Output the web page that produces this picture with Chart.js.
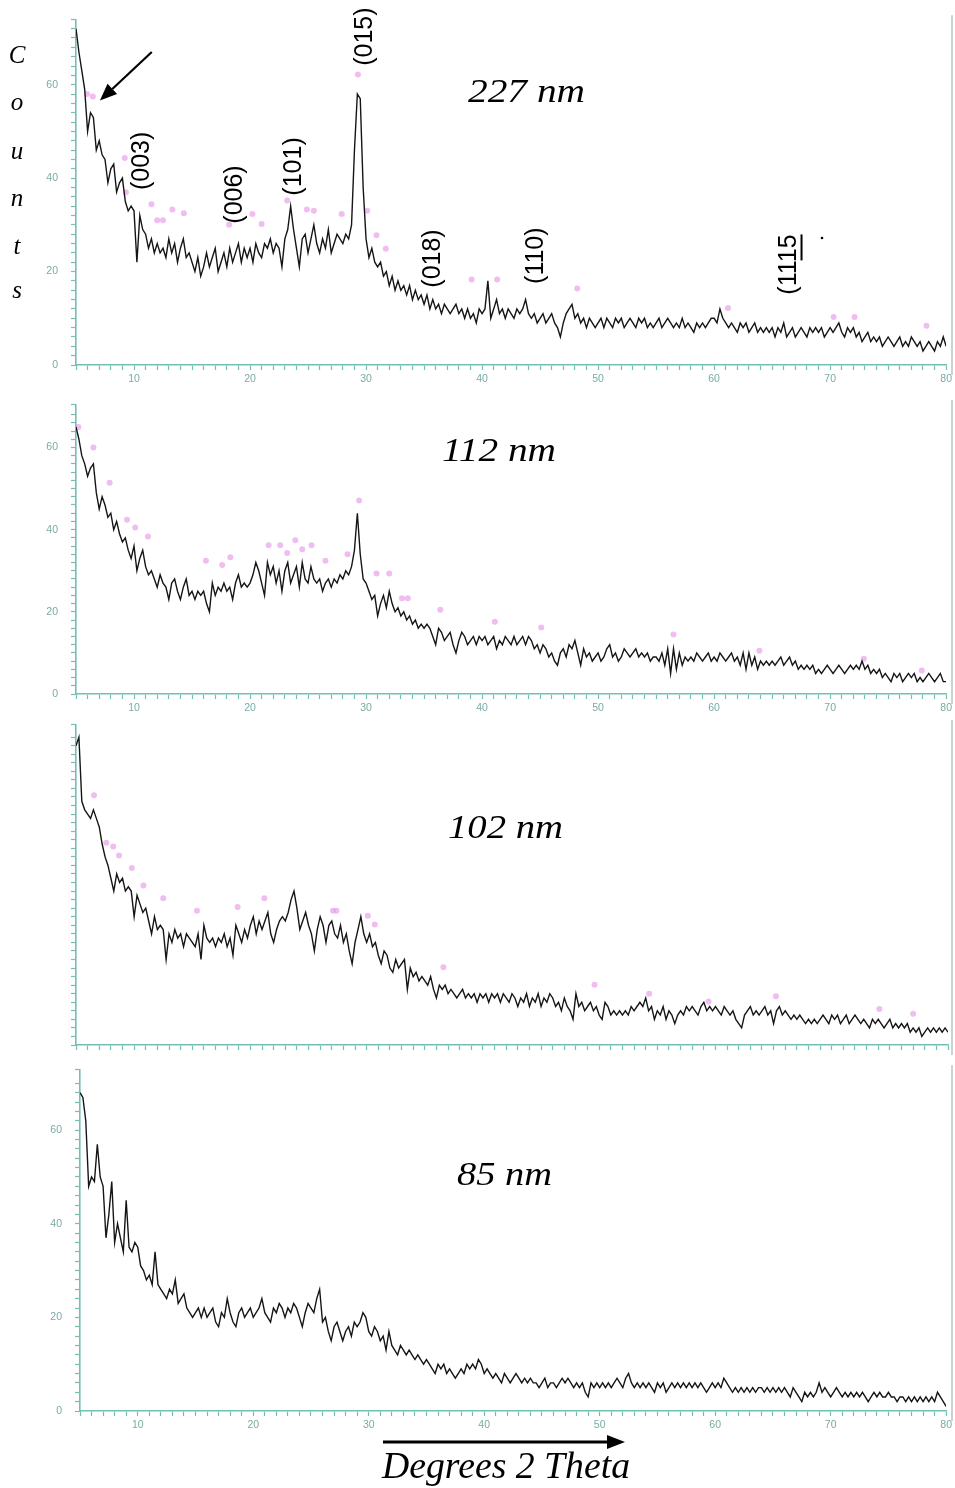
<!DOCTYPE html>
<html>
<head>
<meta charset="utf-8">
<script src="https://cdn.jsdelivr.net/npm/chart.js@4"></script>
<style>
  html, body { margin: 0; padding: 0; background: #fff; }
  body { position: relative; width: 955px; height: 1488px; overflow: hidden; }
  canvas { position: absolute; left: 0; }
  svg.over { position: absolute; left: 0; top: 0; pointer-events: none; }
  svg.over text { font-family: "Liberation Serif", "DejaVu Serif", serif; font-style: italic; fill: #000; }
</style>
</head>
<body>
<canvas id="c1" width="955" height="392" style="top:0px"></canvas>
<canvas id="c2" width="955" height="335" style="top:385px"></canvas>
<canvas id="c3" width="955" height="370" style="top:705px"></canvas>
<canvas id="c4" width="955" height="390" style="top:1050px"></canvas>

<svg class="over" width="955" height="1488" viewBox="0 0 955 1488">
  <!-- vertical axis title, one letter per line -->
  <text x="17" y="63" font-size="25" text-anchor="middle">C</text>
  <text x="17" y="110" font-size="25" text-anchor="middle">o</text>
  <text x="17" y="159" font-size="25" text-anchor="middle">u</text>
  <text x="17" y="206" font-size="25" text-anchor="middle">n</text>
  <text x="17" y="254" font-size="25" text-anchor="middle">t</text>
  <text x="17" y="298" font-size="25" text-anchor="middle">s</text>

  <!-- crystallite size of each sample -->
  <text x="468" y="102" font-size="34" textLength="117" lengthAdjust="spacingAndGlyphs">227 nm</text>
  <text x="442" y="461" font-size="34" textLength="114" lengthAdjust="spacingAndGlyphs">112 nm</text>
  <text x="448" y="838" font-size="34" textLength="115" lengthAdjust="spacingAndGlyphs">102 nm</text>
  <text x="457" y="1185" font-size="34" textLength="95" lengthAdjust="spacingAndGlyphs">85 nm</text>

  <!-- horizontal axis title with direction arrow -->
  <line x1="383" y1="1442" x2="610" y2="1442" stroke="#000" stroke-width="3"/>
  <polygon points="607,1435 625,1442 607,1449" fill="#000"/>
  <text x="382" y="1478" font-size="38" textLength="248" lengthAdjust="spacingAndGlyphs">Degrees 2 Theta</text>
</svg>

<script>
// Scan grid of the diffractometer (degrees 2θ)
const scanStart = 5;
const scanStep = 0.25;

// Axis tick settings
const xMin = 5, xMax = 80;
const xTickStep = 1, xLabelStep = 10;
const yTickStep = 2, yLabelStep = 20;

// Counts, one row per 5° of 2θ
const counts227 = [
  72,67,63,59,50,54,53,46,48,45,44,39,42,43,37,39,40,35,33,34,
  33,22,32,29,28,25,27,24,26,24,25,23,27,24,26,22,25,27,23,24,
  22,20,23,19,21,24,21,23,25,20,22,24,21,25,22,24,26,22,25,23,
  25,22,26,24,23,26,25,27,24,26,25,21,27,29,34,29,25,21,27,28,
  24,27,30,26,24,27,25,29,24,26,28,27,26,28,27,30,46,58,57,38,
  27,23,25,22,21,22,19,20,17,19,16,18,16,17,15,17,14,16,14,15,
  13,15,12,14,12,13,11,13,12,11,12,13,11,12,10,12,10,11,9,12,
  11,12,18,10,12,14,11,12,10,12,11,10,12,11,12,14,11,10,11,9,
  10,11,9,10,11,9,8,6,9,11,12,13,10,11,9,10,8,10,9,8,
  9,10,8,10,9,8,10,9,10,8,9,10,9,8,10,9,10,8,9,8,
  9,10,8,9,10,9,8,9,8,10,8,9,8,7,9,8,9,8,9,10,
  10,9,12,10,9,8,9,8,7,9,8,9,7,8,9,7,8,7,8,7,
  8,6,8,7,9,6,7,8,6,7,8,7,6,8,7,8,7,8,6,7,
  8,7,8,9,7,6,8,7,8,6,7,5,6,7,5,6,5,6,4,5,
  6,5,4,5,6,4,5,4,6,5,4,5,3,4,5,4,3,5,4,6,
  4
];

const counts112 = [
  65,62,58,56,53,55,56,49,45,48,46,43,44,40,42,39,37,38,35,33,
  36,30,33,35,31,29,30,28,26,29,27,26,23,27,28,25,23,26,28,24,
  25,23,25,24,25,22,20,27,24,26,25,27,25,26,23,27,29,26,27,26,
  27,29,32,30,27,24,32,29,31,27,30,25,30,32,27,29,31,26,32,28,
  27,31,28,27,28,25,27,28,26,28,27,29,28,30,29,31,35,44,34,28,
  27,25,23,24,19,22,24,21,25,22,20,21,19,20,18,19,17,18,16,17,
  16,17,16,14,12,16,15,13,14,15,12,10,13,15,14,12,13,14,12,14,
  13,14,12,13,14,11,13,12,14,13,12,14,12,13,14,12,14,13,11,12,
  10,12,11,9,10,8,7,10,11,9,12,11,13,10,7,11,9,10,8,9,
  10,8,9,11,12,9,10,8,9,11,10,9,10,11,9,10,9,10,8,9,
  9,8,10,7,11,5,11,6,10,7,9,8,9,8,10,9,8,9,10,8,
  9,8,10,9,8,9,10,8,9,7,10,6,10,7,9,6,8,7,8,7,
  8,7,8,9,7,8,9,7,8,6,7,6,7,6,7,5,6,5,6,7,
  6,5,6,7,6,5,6,7,6,7,6,8,6,7,5,6,5,6,4,5,
  4,3,5,4,5,3,4,5,4,5,3,4,3,4,5,4,3,4,5,3,
  3
];

const counts102 = [
  70,72,57,55,54,53,55,53,51,47,44,42,39,36,40,38,39,36,37,36,
  30,35,33,31,32,29,26,30,27,28,27,20,26,24,27,25,26,23,26,25,
  24,23,26,20,28,25,24,25,23,25,24,26,23,25,21,28,26,24,27,25,
  28,30,26,29,27,29,31,26,24,27,29,30,29,31,34,36,32,27,29,31,
  28,26,22,27,30,28,24,28,29,26,25,28,24,26,22,19,24,27,30,26,
  24,26,23,24,21,19,22,21,18,17,20,18,19,20,13,18,16,17,15,16,
  15,14,16,13,11,14,13,14,12,13,12,11,12,13,11,12,11,12,10,12,
  11,12,10,12,11,12,10,12,11,10,12,11,9,11,10,12,9,11,10,12,
  9,11,10,12,11,9,10,8,11,9,8,6,12,9,10,8,9,10,8,9,
  7,6,10,9,7,8,7,8,7,8,7,9,8,9,10,9,11,8,9,6,
  8,7,9,6,8,7,5,7,8,7,9,8,9,8,7,9,10,8,9,8,
  9,8,7,9,8,7,8,6,5,4,7,8,9,7,8,7,8,9,7,8,
  5,8,9,7,8,7,6,7,6,7,6,5,6,5,6,5,6,7,6,5,
  7,6,7,5,6,7,5,6,7,6,5,6,5,4,6,5,6,5,4,5,
  6,4,5,4,5,4,5,3,4,3,4,2,3,4,3,4,3,4,3,4,
  3
];

const counts85 = [
  68,67,62,48,50,49,57,50,48,37,42,49,36,40,37,34,45,35,34,36,
  35,31,30,28,29,27,34,27,26,25,24,26,25,28,23,24,25,22,21,20,
  21,22,20,22,20,21,22,19,18,21,20,24,21,19,18,21,22,20,21,22,
  20,21,22,24,21,20,19,22,21,23,22,20,22,21,23,22,20,18,21,23,
  22,21,24,26,19,20,17,15,18,19,17,15,17,18,16,19,18,19,21,20,
  17,16,18,17,15,16,13,17,14,13,12,14,13,12,13,12,11,12,11,10,
  11,10,9,8,10,9,10,8,9,8,7,8,9,8,10,9,10,9,11,10,
  8,9,8,7,8,7,6,8,7,6,7,8,7,6,7,6,7,6,6,5,
  6,7,5,6,6,5,6,7,6,7,6,5,6,5,6,4,3,6,5,6,
  5,6,5,6,5,6,7,6,5,7,8,6,5,6,5,6,5,6,5,4,
  6,5,6,4,5,6,5,6,5,6,5,6,5,6,5,6,5,4,5,6,
  5,6,5,7,6,5,4,5,4,5,4,5,4,5,4,5,5,4,5,4,
  5,4,5,4,5,4,3,5,4,3,2,4,3,4,3,4,6,4,5,4,
  3,4,5,4,3,4,3,4,3,4,3,4,3,2,3,4,3,4,3,3,
  4,3,3,2,3,3,2,3,2,3,2,3,2,3,2,3,2,4,3,2,
  1
];

// Peak-search markers: [2θ, counts]
const marks227 = [
  [5.95,58],[6.45,57.5],[9.2,44.3],[9.3,37],[11.5,34.4],[12.0,31],[12.5,31],[13.3,33.3],
  [14.3,32.5],[18.2,30],[20.2,32.3],[21.0,30.2],[23.2,35.2],[24.9,33.3],[25.5,33],[27.9,32.3],
  [29.3,62.2],[30.1,33],[30.9,27.8],[31.7,24.9],[39.1,18.3],[41.3,18.3],[48.2,16.4],
  [61.2,12.2],[70.3,10.3],[72.1,10.3],[78.3,8.4]
];
const marks112 = [
  [5.2,65],[6.5,60],[7.9,51.4],[9.4,42.4],[10.1,40.5],[11.2,38.3],[16.2,32.4],[17.6,31.4],
  [18.3,33.3],[21.6,36.2],[22.6,36.2],[23.2,34.3],[23.9,37.4],[24.5,35.2],[25.3,36.2],
  [26.5,32.4],[28.4,34],[29.4,47.1],[30.9,29.3],[32.0,29.3],[33.1,23.3],[33.6,23.3],
  [36.4,20.5],[41.1,17.6],[45.1,16.2],[56.5,14.5],[63.9,10.5],[72.9,8.6],[77.9,5.7]
];
const marks102 = [
  [6.55,58.4],[7.6,47.3],[8.2,46.4],[8.7,44.3],[9.8,41.4],[10.8,37.3],[12.5,34.3],
  [15.4,31.4],[18.9,32.3],[21.2,34.3],[27.1,31.4],[27.4,31.4],[30.1,30.2],[30.7,28.2],
  [36.6,18.2],[49.6,14.1],[54.3,12.0],[59.4,10.2],[65.2,11.4],[74.1,8.4],[77.0,7.3]
];

// Miller-index annotations of the 227 nm pattern, anchored at (2θ, counts)
const hklText = ['(003)', '(006)', '(101)', '(015)', '(018)', '(110)', '(1115'];
const hklTheta = [10.7, 18.7, 23.8, 29.9, 35.8, 44.7, 66.5];
const hklCounts = [43.7, 36.5, 42.5, 70.3, 22.8, 23.4, 21.5];

const AXIS = '#72c0b4';
const TICK_TEXT = '#79aca5';

// Draws the frame line on the right, the rotated hkl labels and the pointer arrow
const notesPlugin = {
  id: 'xrdNotes',
  afterDraw(chart, args, opts) {
    const { ctx, chartArea, scales } = chart;
    const xs = scales.x, ys = scales.y;
    ctx.save();
    if (opts.frameX) {
      ctx.strokeStyle = '#c9d3d2';
      ctx.lineWidth = 2;
      ctx.beginPath();
      ctx.moveTo(opts.frameX, chartArea.top - 4);
      ctx.lineTo(opts.frameX, chartArea.bottom + 10);
      ctx.stroke();
    }
    (opts.labels || []).forEach(l => {
      const px = xs.getPixelForValue(l.x);
      const py = ys.getPixelForValue(l.y);
      ctx.save();
      ctx.translate(px, py);
      ctx.rotate(-Math.PI / 2);
      ctx.font = '25px "Liberation Sans", Arial, sans-serif';
      ctx.fillStyle = '#000';
      ctx.textAlign = 'center';
      ctx.textBaseline = 'middle';
      ctx.fillText(l.text, 0, 0);
      if (l.underlineFrom) {
        const w = ctx.measureText(l.text).width;
        const start = -w / 2 + ctx.measureText(l.text.slice(0, l.underlineFrom)).width;
        ctx.fillRect(start, 11, w / 2 - start, 2);
      }
      ctx.restore();
    });
    if (opts.dot) {
      ctx.fillStyle = '#000';
      ctx.beginPath();
      ctx.arc(xs.getPixelForValue(opts.dot[0]), ys.getPixelForValue(opts.dot[1]), 1.3, 0, Math.PI * 2);
      ctx.fill();
    }
    if (opts.arrow) {
      const x0 = xs.getPixelForValue(opts.arrow.from[0]), y0 = ys.getPixelForValue(opts.arrow.from[1]);
      const x1 = xs.getPixelForValue(opts.arrow.to[0]), y1 = ys.getPixelForValue(opts.arrow.to[1]);
      const ang = Math.atan2(y1 - y0, x1 - x0);
      const head = 17, half = 7;
      const bx = x1 - head * Math.cos(ang), by = y1 - head * Math.sin(ang);
      ctx.strokeStyle = '#000';
      ctx.lineWidth = 2.2;
      ctx.beginPath();
      ctx.moveTo(x0, y0);
      ctx.lineTo(bx, by);
      ctx.stroke();
      ctx.fillStyle = '#000';
      ctx.beginPath();
      ctx.moveTo(x1, y1);
      ctx.lineTo(bx + half * Math.sin(ang), by - half * Math.cos(ang));
      ctx.lineTo(bx - half * Math.sin(ang), by + half * Math.cos(ang));
      ctx.closePath();
      ctx.fill();
    }
    ctx.restore();
  }
};

function toPoints(counts) {
  return counts.map((c, i) => ({ x: scanStart + i * scanStep, y: c }));
}

function makePanel(p) {
  const datasets = [{
    type: 'line',
    data: toPoints(p.counts),
    borderColor: '#151515',
    borderWidth: 1.4,
    pointRadius: 0,
    tension: 0,
    order: 1
  }];
  if (p.marks.length) {
    datasets.push({
      type: 'scatter',
      data: p.marks.map(m => ({ x: m[0], y: m[1] })),
      showLine: false,
      pointRadius: 3,
      pointBackgroundColor: 'rgba(230,145,230,0.6)',
      pointBorderWidth: 0,
      order: 2
    });
  }
  const tickFont = { family: '"Liberation Sans", Arial, sans-serif', size: 10.5 };
  return new Chart(document.getElementById(p.id), {
    type: 'line',
    data: { datasets },
    options: {
      responsive: false,
      animation: false,
      events: [],
      layout: { padding: { top: p.padTop, right: p.padRight, left: 0, bottom: 0 } },
      plugins: {
        legend: { display: false },
        tooltip: { enabled: false },
        xrdNotes: p.notes
      },
      scales: {
        x: {
          type: 'linear',
          min: xMin, max: xMax,
          border: { color: AXIS, width: 1.6 },
          grid: { drawOnChartArea: false, drawTicks: true, tickLength: 5, color: AXIS, tickWidth: 1.2 },
          ticks: {
            stepSize: xTickStep, autoSkip: false, maxRotation: 0, padding: 3,
            color: TICK_TEXT, font: tickFont,
            callback: v => (p.showLabels && v % xLabelStep === 0 ? String(v) : '')
          },
          afterFit: s => { s.height = p.xAxisH; }
        },
        y: {
          type: 'linear',
          min: 0, max: p.yMax,
          border: { color: AXIS, width: 1.6 },
          grid: { drawOnChartArea: false, drawTicks: true, tickLength: 5, color: AXIS, tickWidth: 1.2 },
          ticks: {
            stepSize: yTickStep, autoSkip: false, padding: 13,
            color: TICK_TEXT, font: tickFont,
            callback: v => (p.showLabels && v % yLabelStep === 0 ? String(v) : '')
          },
          afterFit: s => { s.width = p.yAxisW; }
        }
      }
    },
    plugins: [notesPlugin]
  });
}

const hklLabels = hklText.map((t, i) => ({
  text: t, x: hklTheta[i], y: hklCounts[i], underlineFrom: t === '(1115' ? 3 : 0
}));

makePanel({
  id: 'c1', counts: counts227, marks: marks227, yMax: 74, showLabels: true,
  padTop: 15, padRight: 7, xAxisH: 27, yAxisW: 76,
  notes: { frameX: 952, labels: hklLabels, dot: [69.3, 27.2], arrow: { from: [11.53, 67], to: [7.06, 56.6] } }
});
makePanel({
  id: 'c2', counts: counts112, marks: marks112, yMax: 70.5, showLabels: true,
  padTop: 13, padRight: 7, xAxisH: 26, yAxisW: 76,
  notes: { frameX: 952 }
});
makePanel({
  id: 'c3', counts: counts102, marks: marks102, yMax: 75, showLabels: false,
  padTop: 10, padRight: 7, xAxisH: 30, yAxisW: 76,
  notes: { frameX: 952 }
});
makePanel({
  id: 'c4', counts: counts85, marks: [], yMax: 73, showLabels: true,
  padTop: 12, padRight: 5, xAxisH: 29, yAxisW: 80,
  notes: { frameX: 952 }
});
</script>
</body>
</html>
